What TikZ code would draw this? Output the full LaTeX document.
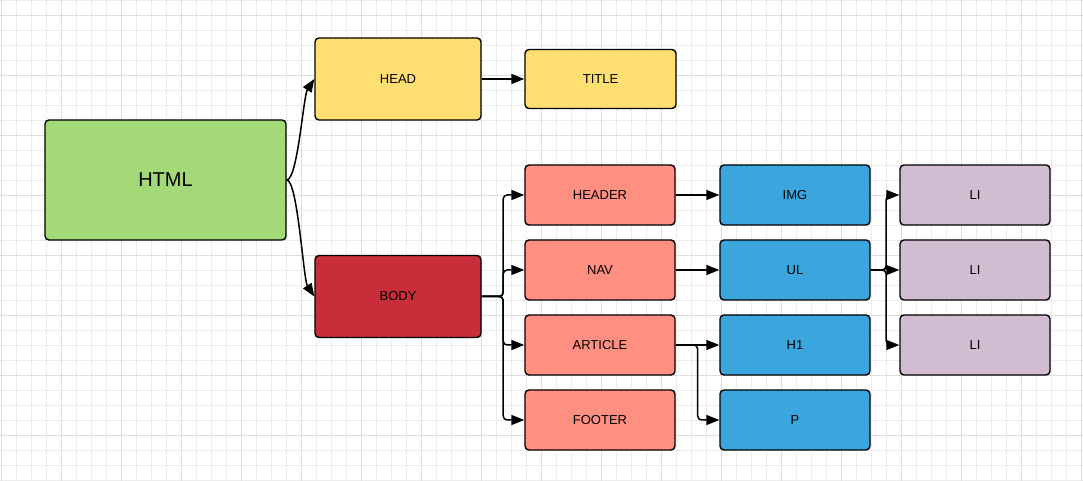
\documentclass[tikz,border=0pt]{standalone}
\usepackage{fontspec}
\setmainfont{Liberation Sans}
\usetikzlibrary{positioning,arrows.meta}
\definecolor{htmlgreen}{HTML}{A3D977}
\definecolor{headyellow}{HTML}{FFDF71}
\definecolor{bodyred}{HTML}{C92D39}
\definecolor{secsalmon}{HTML}{FF8F80}
\definecolor{leafblue}{HTML}{3AA6DD}
\definecolor{lilac}{HTML}{D1BCD2}
\definecolor{gridfine}{HTML}{ECECEC}
\definecolor{gridbold}{HTML}{DDDDDD}
\tikzstyle{tag}=[draw, line width=1.4pt, rounded corners=4pt, text centered, minimum width=150pt, minimum height=60pt, inner sep=0pt, font=\fontsize{13}{15}\selectfont]
\tikzstyle{link}=[line width=1.5pt, -{Triangle[length=13pt,width=10pt]}]

\begin{document}
\begin{tikzpicture}[node distance=75pt,on grid]
   \useasboundingbox (0,0) rectangle (1083pt,481pt);
   \begin{scope}
   \clip (0,0) rectangle (1083pt,481pt);
   \draw[gridfine,line width=0.8pt,step=15pt,xshift=1.7pt,yshift=1pt] (-15pt,-15pt) grid (1095pt,495pt);
   \draw[gridbold,line width=0.9pt,step=60pt,xshift=1.7pt,yshift=46pt] (-60pt,-60pt) grid (1140pt,480pt);
   \end{scope}
   \node[tag,fill=htmlgreen,minimum width=241pt,minimum height=120pt,font=\fontsize{20}{24}\selectfont] (html) at (165.5pt,301pt) {HTML};
   \node[tag,fill=headyellow,minimum width=166pt,minimum height=82pt] (head) [above right=101pt and 232.5pt of html] {HEAD};
   \node[tag,fill=headyellow,minimum width=151pt,minimum height=59pt] (title) [right=202.5pt of head] {TITLE};
   \node[tag,fill=bodyred,minimum width=166pt,minimum height=82pt] (body) [below right=116.5pt and 232.5pt of html] {BODY};
   \node[tag,fill=secsalmon] (header) [above right=101.5pt and 202pt of body] {HEADER};
   \node[tag,fill=secsalmon] (nav) [below=of header] {NAV};
   \node[tag,fill=secsalmon] (article) [below=of nav] {ARTICLE};
   \node[tag,fill=secsalmon] (footer) [below=of article] {FOOTER};
   \node[tag,fill=leafblue] (img) [right=195pt of header] {IMG};
   \node[tag,fill=leafblue] (ul) [right=195pt of nav] {UL};
   \node[tag,fill=leafblue] (h1) [right=195pt of article] {H1};
   \node[tag,fill=leafblue] (p) [right=195pt of footer] {P};
   \node[tag,fill=lilac] (li1) [right=180pt of img] {LI};
   \node[tag,fill=lilac] (li2) [right=180pt of ul] {LI};
   \node[tag,fill=lilac] (li3) [right=180pt of h1] {LI};
   % forks
   \coordinate[right=21.5pt of body.east] (bodyfork);
   \coordinate[right=22pt of article.east] (articlefork);
   \coordinate[right=15.5pt of ul.east] (ulfork);
   \draw[link] (html.east) .. controls +(11pt,0) and +(-11pt,-17pt) .. (head.west);
   \draw[link] (html.east) .. controls +(11pt,0) and +(-11pt,17pt) .. (body.west);
   \path[link]
    (head) edge (title)
    (header) edge (img)
    (nav) edge (ul)
    (article) edge (h1);
   \foreach \sec in {header,nav,article,footer}
    \draw[link,rounded corners=4pt] (body.east) -- (bodyfork) |- (\sec.west);
   \draw[link,rounded corners=4pt] (article.east) -- (articlefork) |- (p.west);
   \foreach \li in {li1,li2,li3}
    \draw[link,rounded corners=4pt] (ul.east) -- (ulfork) |- (\li.west);
\end{tikzpicture}
\end{document}
